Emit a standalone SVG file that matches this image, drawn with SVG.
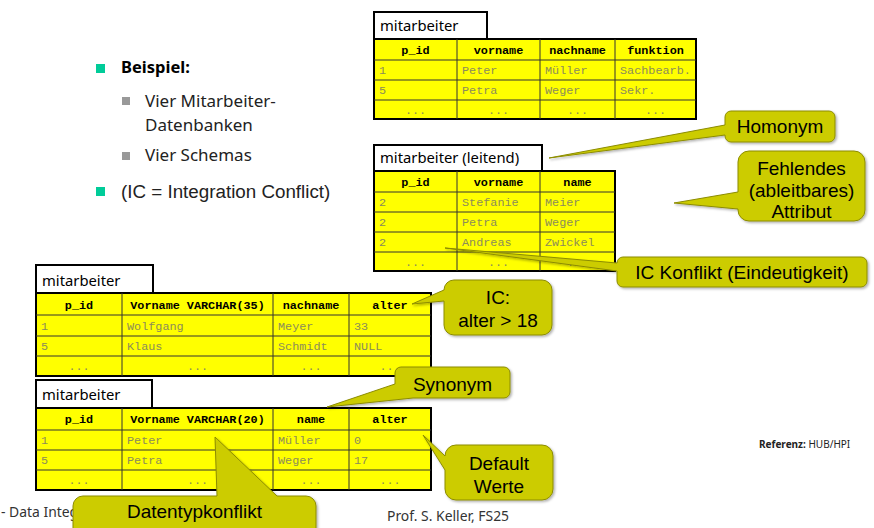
<svg xmlns="http://www.w3.org/2000/svg" width="874" height="528" viewBox="0 0 874 528">
<defs>
<filter id="sh" x="-10%" y="-10%" width="130%" height="140%">
<feDropShadow dx="1.5" dy="1.5" stdDeviation="1" flood-color="#000" flood-opacity="0.3"/>
</filter>
</defs>
<style>
.tbl{fill:#FFFF00;stroke:#000;stroke-width:2}
.grid{stroke:#333;stroke-width:1;fill:none}
.ttl{fill:#fff;stroke:#000;stroke-width:2}
.ttlt{font-family:"Noto Sans","Open Sans",sans-serif;font-size:14.8px;fill:#000}
.h{font-family:"Liberation Mono",monospace;font-weight:bold;font-size:11.8px;text-anchor:middle;fill:#000}
.d{font-family:"Liberation Mono",monospace;font-size:11.8px;fill:#8c8c5a}
.dc{font-family:"Liberation Mono",monospace;font-size:11.8px;fill:#8c8c5a;text-anchor:middle}
.co{fill:#CCCC00;stroke:#8c8c00;stroke-width:1;filter:url(#sh)}
.cot{font-family:"Liberation Sans",Arial,sans-serif;font-size:19px;text-anchor:middle;fill:#000}
.bt{font-family:"Noto Sans","Open Sans",sans-serif;font-size:17px;fill:#222}
.ft{font-family:"Noto Sans","Open Sans",sans-serif;font-size:13.9px;fill:#333}
</style>
<rect width="874" height="528" fill="#fff"/>

<g id="intro">
<rect x="96" y="64" width="9" height="9" fill="#00CC99"/>
<text x="121" y="73" class="bt" style="font-weight:bold;font-size:16.5px;fill:#000">Beispiel:</text>
<rect x="122" y="97" width="8" height="8" fill="#999"/>
<text x="145" y="107" class="bt">Vier Mitarbeiter-</text>
<text x="145" y="131" class="bt">Datenbanken</text>
<rect x="122" y="152" width="8" height="8" fill="#999"/>
<text x="145" y="161" class="bt">Vier Schemas</text>
<rect x="96" y="187" width="9" height="9" fill="#00CC99"/>
<text x="121" y="198" style="font-family:'Liberation Sans',Arial,sans-serif;font-size:18.8px;fill:#222">(IC = Integration Conflict)</text>
</g>

<g id="table-mitarbeiter-1">
<rect x="374" y="12" width="113" height="27" class="ttl"/>
<text x="380" y="31" class="ttlt">mitarbeiter</text>
<rect x="374" y="39" width="322" height="80" class="tbl"/>
<path class="grid" d="M457 39V119M540 39V119M615 39V119M374 60H696M374 80H696M374 100H696"/>
<text x="415.5" y="53.5" class="h">p_id</text>
<text x="498.5" y="53.5" class="h">vorname</text>
<text x="577.5" y="53.5" class="h">nachname</text>
<text x="655.5" y="53.5" class="h">funktion</text>
<text x="379" y="74" class="d">1</text>
<text x="462" y="74" class="d">Peter</text>
<text x="545" y="74" class="d">Müller</text>
<text x="620" y="74" class="d">Sachbearb.</text>
<text x="379" y="94" class="d">5</text>
<text x="462" y="94" class="d">Petra</text>
<text x="545" y="94" class="d">Weger</text>
<text x="620" y="94" class="d">Sekr.</text>
<text x="415.5" y="113.5" class="dc">...</text>
<text x="498.5" y="113.5" class="dc">...</text>
<text x="577.5" y="113.5" class="dc">...</text>
<text x="655.5" y="113.5" class="dc">...</text>
</g>

<g id="table-mitarbeiter-leitend">
<rect x="374" y="145" width="168" height="26" class="ttl"/>
<text x="380" y="163" class="ttlt">mitarbeiter (leitend)</text>
<rect x="374" y="171" width="241" height="100" class="tbl"/>
<path class="grid" d="M457 171V271M540 171V271M374 192H615M374 212H615M374 232H615M374 252H615"/>
<text x="415.5" y="185.5" class="h">p_id</text>
<text x="498.5" y="185.5" class="h">vorname</text>
<text x="577.5" y="185.5" class="h">name</text>
<text x="379" y="206" class="d">2</text>
<text x="462" y="206" class="d">Stefanie</text>
<text x="545" y="206" class="d">Meier</text>
<text x="379" y="226" class="d">2</text>
<text x="462" y="226" class="d">Petra</text>
<text x="545" y="226" class="d">Weger</text>
<text x="379" y="246" class="d">2</text>
<text x="462" y="246" class="d">Andreas</text>
<text x="545" y="246" class="d">Zwickel</text>
<text x="415.5" y="265.5" class="dc">...</text>
<text x="498.5" y="265.5" class="dc">...</text>
<text x="577.5" y="265.5" class="dc">...</text>
</g>

<g id="table-mitarbeiter-3">
<rect x="36" y="265" width="117" height="28" class="ttl"/>
<text x="42" y="286" class="ttlt">mitarbeiter</text>
<rect x="36" y="293" width="395" height="83" class="tbl"/>
<path class="grid" d="M122 293V376M273 293V376M349 293V376M36 315H431M36 336H431M36 356H431"/>
<text x="79" y="308.5" class="h">p_id</text>
<text x="197.5" y="308.5" class="h">Vorname VARCHAR(35)</text>
<text x="311" y="308.5" class="h">nachname</text>
<text x="390" y="308.5" class="h">alter</text>
<text x="41" y="329.5" class="d">1</text>
<text x="127" y="329.5" class="d">Wolfgang</text>
<text x="278" y="329.5" class="d">Meyer</text>
<text x="354" y="329.5" class="d">33</text>
<text x="41" y="350" class="d">5</text>
<text x="127" y="350" class="d">Klaus</text>
<text x="278" y="350" class="d">Schmidt</text>
<text x="354" y="350" class="d">NULL</text>
<text x="79" y="370" class="dc">...</text>
<text x="197.5" y="370" class="dc">...</text>
<text x="311" y="370" class="dc">...</text>
<text x="390" y="370" class="dc">...</text>
</g>

<g id="table-mitarbeiter-4">
<rect x="36" y="380" width="116" height="28" class="ttl"/>
<text x="42" y="400" class="ttlt">mitarbeiter</text>
<rect x="36" y="408" width="395" height="82" class="tbl"/>
<path class="grid" d="M122 408V490M273 408V490M349 408V490M36 430H431M36 450H431M36 470H431"/>
<text x="79" y="423" class="h">p_id</text>
<text x="197.5" y="423" class="h">Vorname VARCHAR(20)</text>
<text x="311" y="423" class="h">name</text>
<text x="390" y="423" class="h">alter</text>
<text x="41" y="444" class="d">1</text>
<text x="127" y="444" class="d">Peter</text>
<text x="278" y="444" class="d">Müller</text>
<text x="354" y="444" class="d">0</text>
<text x="41" y="464" class="d">5</text>
<text x="127" y="464" class="d">Petra</text>
<text x="278" y="464" class="d">Weger</text>
<text x="354" y="464" class="d">17</text>
<text x="79" y="484" class="dc">...</text>
<text x="197.5" y="484" class="dc">...</text>
<text x="311" y="484" class="dc">...</text>
<text x="390" y="484" class="dc">...</text>
</g>

<g id="footer">
<text x="1" y="517" class="ft">- Data Integ</text>
<text x="387" y="521" class="ft">Prof. S. Keller, FS25</text>
<text x="759" y="448" style="font-family:'Noto Sans','Open Sans',sans-serif;font-size:10px;fill:#222"><tspan font-weight="bold">Referenz:</tspan> HUB/HPI</text>
</g>

<g id="connectors"></g>

<g id="callout-homonym">
<path class="co" d="M731 111H829A6 6 0 0 1 835 117V136A6 6 0 0 1 829 142H731A6 6 0 0 1 725 136V135L549 158L725 125V117A6 6 0 0 1 731 111Z"/>
<text x="780" y="133" class="cot">Homonym</text>
</g>

<g id="callout-fehlendes">
<path class="co" d="M749 151H854A11 11 0 0 1 865 162V210A11 11 0 0 1 854 221H749A11 11 0 0 1 738 210V209L674 203L738 192V162A11 11 0 0 1 749 151Z"/>
<text x="801.5" y="175" class="cot">Fehlendes</text>
<text x="801.5" y="197" class="cot">(ableitbares)</text>
<text x="801.5" y="218" class="cot">Attribut</text>
</g>

<g id="callout-ic-konflikt">
<path class="co" d="M623 257H861A6 6 0 0 1 867 263V281A6 6 0 0 1 861 287H623A6 6 0 0 1 617 281V271L445 248L617 263A6 6 0 0 1 623 257Z"/>
<text x="742" y="279" class="cot">IC Konflikt (Eindeutigkeit)</text>
</g>

<g id="callout-ic-alter">
<path class="co" d="M454 280H542A10 10 0 0 1 552 290V325A10 10 0 0 1 542 335H454A10 10 0 0 1 444 325V301L412 304L444 290A10 10 0 0 1 454 280Z"/>
<text x="498" y="304" class="cot">IC:</text>
<text x="498" y="327" class="cot">alter &gt; 18</text>
</g>

<g id="callout-synonym">
<path class="co" d="M401 367H504A6 6 0 0 1 510 373V392A6 6 0 0 1 504 398H413L327 407L395 384V373A6 6 0 0 1 401 367Z"/>
<text x="452.5" y="391" class="cot">Synonym</text>
</g>

<g id="callout-default">
<path class="co" d="M456 445H542A11 11 0 0 1 553 456V489A11 11 0 0 1 542 500H456A11 11 0 0 1 445 489V470L423 435L445 456A11 11 0 0 1 456 445Z"/>
<text x="499" y="470" class="cot">Default</text>
<text x="499" y="493" class="cot">Werte</text>
</g>

<g id="callout-datentyp">
<path class="co" d="M83 496H217L215 437L277 496H306A10 10 0 0 1 316 506V531A10 10 0 0 1 306 541H83A10 10 0 0 1 73 531V506A10 10 0 0 1 83 496Z"/>
<text x="194.5" y="518" class="cot">Datentypkonflikt</text>
</g>
</svg>
